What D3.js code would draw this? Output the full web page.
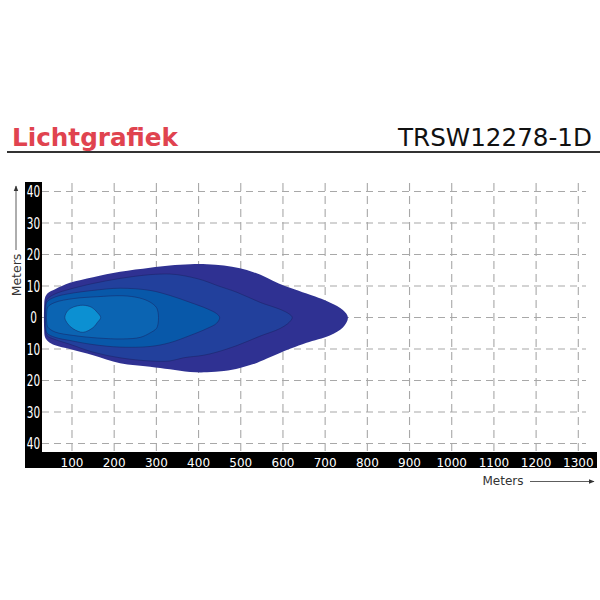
<!DOCTYPE html>
<html>
<head>
<meta charset="utf-8">
<script src="https://cdn.jsdelivr.net/npm/d3@7"></script>
<style>
  html, body { margin: 0; padding: 0; background: #fff; }
  text { font-family: "DejaVu Sans", Verdana, sans-serif; }
</style>
</head>
<body>
<div id="chart"></div>
<script>
// tick values
const xTicks = [100,200,300,400,500,600,700,800,900,1000,1100,1200,1300];
const yTicks = [40,30,20,10,0,-10,-20,-30,-40];

// iso-lux zones, outer to inner: [distance m, lateral m]
const zone1Top = [[34,3.5],[36,6.3],[43,7.8],[60,9],[95,11],[150,12.8],[214,14.5],[285,15.8],[332,16.5],[380,16.9],[420,16.9],[460,16.5],[498,15.6],[530,14.4],[562,12.6],[590,10.8],[620,9.3],[656,7.6],[711,4.8],[742,2.4],[754,0]];
const zone1Bot = [[34,-3.5],[36,-6.2],[43,-7.5],[60,-8.8],[95,-10],[150,-12],[214,-14.5],[285,-15.6],[332,-16.4],[380,-17.3],[420,-17.4],[460,-17],[498,-16],[530,-14.8],[562,-13],[590,-11.4],[620,-9.8],[656,-8],[711,-5.7],[742,-3.2]];
const zone2Top = [[37,4],[41,5.8],[60,7.5],[95,9],[150,10.8],[214,12.4],[285,13.6],[332,13.8],[364,13.3],[411,11.8],[443,10.2],[491,8],[546,4.8],[593,2.6],[615,1.1],[622,0]];
const zone2Bot = [[37,-4],[41,-5.8],[60,-7],[95,-8.5],[150,-11],[214,-12.8],[285,-13.8],[332,-13.8],[364,-12.8],[411,-12],[443,-11],[491,-8.9],[546,-5.9],[593,-3.5],[615,-1.5]];
const zone3Top = [[38,3.2],[41,5],[60,6.5],[95,7.6],[150,8.6],[214,9.3],[285,8.6],[332,7],[380,4.8],[420,2.8],[443,1.2],[450,0]];
const zone3Bot = [[38,-3.2],[41,-5],[60,-6.3],[95,-7.3],[150,-8.6],[214,-9.4],[285,-9.2],[332,-8],[380,-5.7],[420,-3.5],[443,-1.8]];
const zone4Top = [[40,1.5],[43,3.4],[60,4.8],[103,6],[160,6.6],[221,6.9],[260,6.2],[285,4.9],[300,3.2],[304,1.6],[305,0]];
const zone4Bot = [[40,-1.5],[43,-3.1],[60,-4.6],[103,-5.7],[160,-6.5],[221,-6.8],[262,-6.3],[285,-4.9],[300,-3.5],[304,-2]];
const zone5Top = [[83,0],[90,2.2],[103,3.3],[126,3.9],[147,3.2],[160,1.6],[168,0]];
const zone5Bot = [[90,-2],[103,-3.6],[126,-4.7],[150,-3.2],[160,-1.6]];
const zoneColors = ["#2f3192","#22409c","#0858a9","#0b64b2","#0c90d2"];

const zones = [[zone1Top,zone1Bot],[zone2Top,zone2Bot],[zone3Top,zone3Bot],[zone4Top,zone4Bot],[zone5Top,zone5Bot]];

const W = 600, H = 600;
const svg = d3.select("#chart").append("svg")
    .attr("width", W).attr("height", H);

const x = d3.scaleLinear().domain([0, 1300]).range([29.8, 578.3]);
const y = d3.scaleLinear().domain([40, -40]).range([191.5, 443.5]);

// header
svg.append("text")
    .attr("x", 12).attr("y", 146)
    .attr("font-size", 24.5).attr("font-weight", "bold")
    .attr("fill", "#e0434f")
    .attr("textLength", 166).attr("lengthAdjust", "spacingAndGlyphs")
    .text("Lichtgrafiek");
svg.append("text")
    .attr("x", 592).attr("y", 146)
    .attr("text-anchor", "end")
    .attr("font-size", 24.5)
    .attr("fill", "#111")
    .attr("textLength", 194).attr("lengthAdjust", "spacingAndGlyphs")
    .text("TRSW12278-1D");
svg.append("line")
    .attr("x1", 7).attr("x2", 600).attr("y1", 152).attr("y2", 152)
    .attr("stroke", "#333").attr("stroke-width", 2.2);

// grid
svg.append("g").selectAll("line").data(yTicks).enter().append("line")
    .attr("x1", 42).attr("x2", 586)
    .attr("y1", d => y(d)).attr("y2", d => y(d))
    .attr("stroke", "#a8a8a8").attr("stroke-width", 1.1)
    .attr("stroke-dasharray", "7,5");
svg.append("g").selectAll("line").data(xTicks).enter().append("line")
    .attr("x1", d => x(d)).attr("x2", d => x(d))
    .attr("y1", 183).attr("y2", 452)
    .attr("stroke", "#a8a8a8").attr("stroke-width", 1.1)
    .attr("stroke-dasharray", "8,5");

// zones
const line = d3.line()
    .x(d => x(d[0])).y(d => y(d[1]))
    .curve(d3.curveCatmullRomClosed.alpha(0.5));
svg.append("g").selectAll("path").data(zones).enter().append("path")
    .attr("d", d => line(d[0].concat(d[1].slice().reverse())))
    .attr("fill", (d, i) => zoneColors[i])
    .attr("stroke", (d, i) => i === 0 ? "none" : "#1a1f5e")
    .attr("stroke-width", 0.6)
    .attr("stroke-opacity", 0.8);

// black axis bars
svg.append("rect").attr("x", 25).attr("y", 182).attr("width", 17).attr("height", 286).attr("fill", "#000");
svg.append("rect").attr("x", 25).attr("y", 452).attr("width", 572).attr("height", 16).attr("fill", "#000");

svg.append("g").selectAll("text").data(yTicks).enter().append("text")
    .attr("x", 33.5).attr("y", d => y(d) + 5.5)
    .attr("text-anchor", "middle")
    .attr("font-size", 15).attr("fill", "#fff")
    .attr("textLength", d => String(Math.abs(d)).length * 6.7)
    .attr("lengthAdjust", "spacingAndGlyphs")
    .text(d => Math.abs(d));
svg.append("g").selectAll("text").data(xTicks).enter().append("text")
    .attr("x", d => x(d)).attr("y", 466.5)
    .attr("text-anchor", "middle")
    .attr("font-size", 12).attr("fill", "#fff")
    .text(d => d);

// axis titles with arrows
svg.append("defs").append("marker")
    .attr("id", "arr").attr("viewBox", "0 0 10 10")
    .attr("refX", 9).attr("refY", 5)
    .attr("markerWidth", 7).attr("markerHeight", 7)
    .attr("orient", "auto")
    .append("path").attr("d", "M0,1 L10,5 L0,9 Z").attr("fill", "#333");

svg.append("text")
    .attr("transform", "translate(21,275) rotate(-90)")
    .attr("text-anchor", "middle")
    .attr("font-size", 12.5).attr("fill", "#333")
    .text("Meters");
svg.append("line")
    .attr("x1", 16).attr("x2", 16).attr("y1", 250).attr("y2", 186)
    .attr("stroke", "#333").attr("stroke-width", 0.8)
    .attr("marker-end", "url(#arr)");

svg.append("text")
    .attr("x", 482.5).attr("y", 485)
    .attr("font-size", 12).attr("fill", "#333")
    .text("Meters");
svg.append("line")
    .attr("x1", 530).attr("x2", 594).attr("y1", 481.5).attr("y2", 481.5)
    .attr("stroke", "#333").attr("stroke-width", 0.8)
    .attr("marker-end", "url(#arr)");
</script>
</body>
</html>
